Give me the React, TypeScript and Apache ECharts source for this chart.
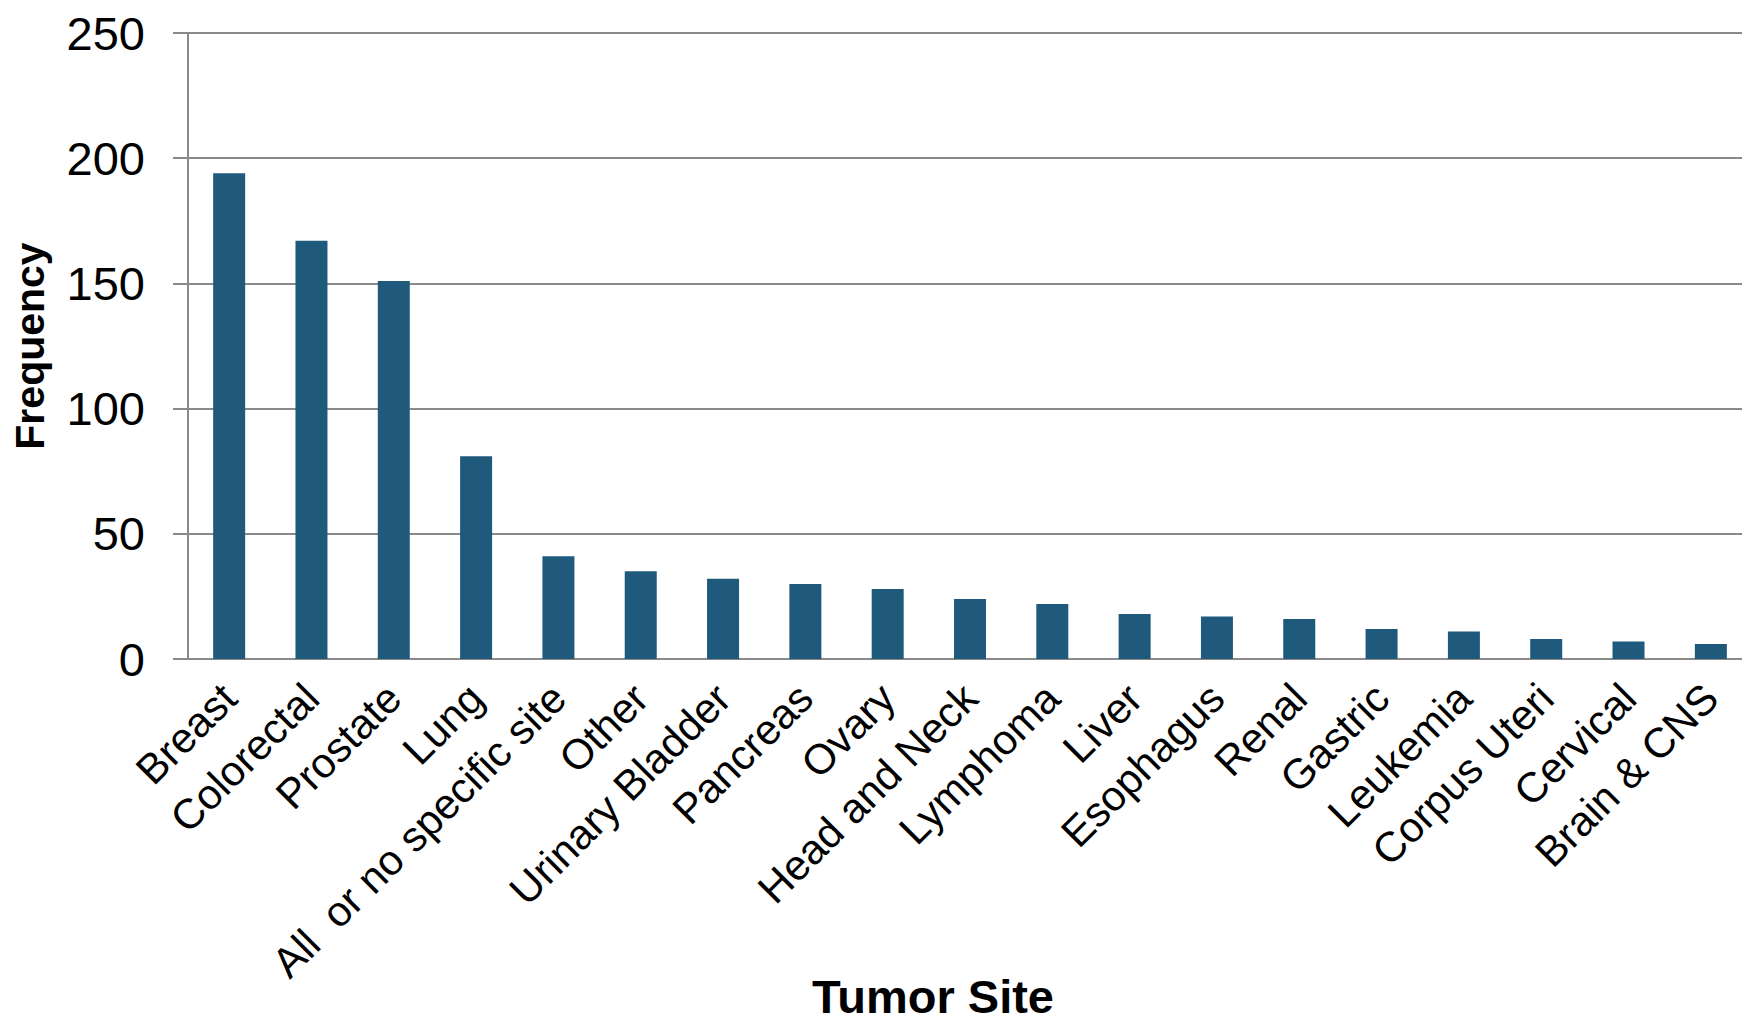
import React, { useEffect, useRef } from "react";
import * as echarts from "echarts";

const categories = [
  "Breast",
  "Colorectal",
  "Prostate",
  "Lung",
  "All  or no specific site",
  "Other",
  "Urinary Bladder",
  "Pancreas",
  "Ovary",
  "Head and Neck",
  "Lymphoma",
  "Liver",
  "Esophagus",
  "Renal",
  "Gastric",
  "Leukemia",
  "Corpus Uteri",
  "Cervical",
  "Brain & CNS",
];

const frequency = [194, 167, 151, 81, 41, 35, 32, 30, 28, 24, 22, 18, 17, 16, 12, 11, 8, 7, 6];

const yTicks = { min: 0, max: 250, interval: 50 };

const FONT = "Liberation Sans, Arial, sans-serif";

export default function App() {
  const ref = useRef<HTMLDivElement>(null);
  useEffect(() => {
    document.body.style.margin = "0";
    const chart = echarts.init(ref.current!, null, { renderer: "svg" });
    chart.setOption({
      animation: false,
      backgroundColor: "#ffffff",
      grid: {
        left: 188,
        right: -10,
        top: 33,
        bottom: 360,
        containLabel: false,
        outerBoundsMode: "none",
      },
      xAxis: {
        type: "category",
        data: categories,
        axisTick: { show: false },
        axisLine: { lineStyle: { color: "#8a8a8a", width: 2 } },
        axisLabel: {
          interval: 0,
          rotate: 45,
          fontSize: 42,
          fontFamily: FONT,
          color: "#000000",
          margin: 32,
        },
      },
      yAxis: {
        type: "value",
        min: yTicks.min,
        max: yTicks.max,
        interval: yTicks.interval,
        name: "Frequency",
        nameLocation: "middle",
        nameGap: 138,
        nameTextStyle: { fontSize: 41, fontWeight: "bold", fontFamily: FONT, color: "#000000" },
        axisLine: { show: true, lineStyle: { color: "#8a8a8a", width: 2 } },
        axisTick: { show: true, length: 15, lineStyle: { color: "#8a8a8a", width: 2 } },
        splitLine: { lineStyle: { color: "#8a8a8a", width: 2 } },
        axisLabel: { fontSize: 47, fontFamily: FONT, color: "#000000", margin: 43 },
      },
      graphic: [
        {
          type: "text",
          x: 933,
          y: 996,
          style: {
            text: "Tumor Site",
            fontSize: 47,
            lineHeight: 42,
            fontWeight: "bold",
            fontFamily: FONT,
            fill: "#000000",
            align: "center",
            verticalAlign: "middle",
          },
        },
      ],
      series: [
        {
          type: "bar",
          data: frequency,
          barWidth: 32,
          itemStyle: { color: "#1f5a7d" },
        },
      ],
    });
    return () => chart.dispose();
  }, []);
  return <div ref={ref} style={{ width: 1742, height: 1019 }} />;
}
